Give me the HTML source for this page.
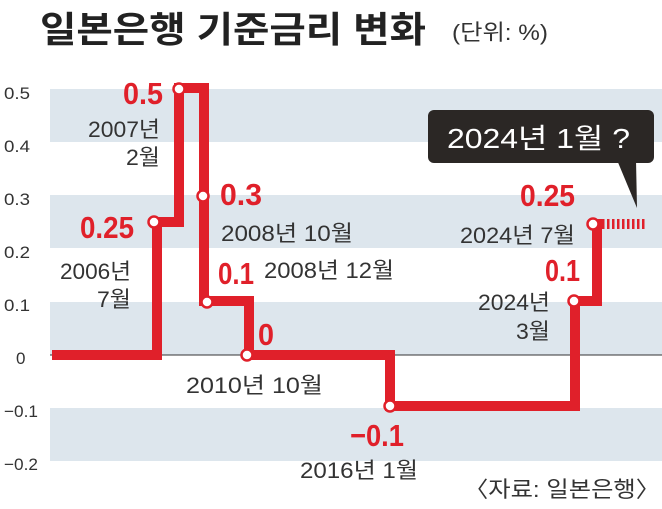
<!DOCTYPE html>
<html><head><meta charset="utf-8"><style>
body{margin:0;background:#fff}
svg{display:block}
text{font-family:"Liberation Sans","Noto Sans CJK KR",sans-serif}
</style></head><body>
<svg width="662" height="509" viewBox="0 0 662 509">
<rect width="662" height="509" fill="#fff"/>
<g fill="#dde6ed">
<rect x="50" y="89" width="612" height="53"/>
<rect x="50" y="195" width="612" height="53"/>
<rect x="50" y="302" width="612" height="53"/>
<rect x="50" y="408" width="612" height="53"/>
</g>
<line x1="50" y1="355" x2="662" y2="355" stroke="#333" stroke-width="1"/>
<text x="40" y="42" font-size="36" font-weight="bold" fill="#222" textLength="386" lengthAdjust="spacingAndGlyphs">일본은행 기준금리 변화</text>
<text x="452" y="40" font-size="22" fill="#333" textLength="96" lengthAdjust="spacingAndGlyphs">(단위: %)</text>
<g font-size="17" fill="#333">
<text x="4" y="99" textLength="26" lengthAdjust="spacingAndGlyphs">0.5</text>
<text x="4" y="152" textLength="26" lengthAdjust="spacingAndGlyphs">0.4</text>
<text x="4" y="205" textLength="26" lengthAdjust="spacingAndGlyphs">0.3</text>
<text x="4" y="258" textLength="26" lengthAdjust="spacingAndGlyphs">0.2</text>
<text x="4" y="311" textLength="26" lengthAdjust="spacingAndGlyphs">0.1</text>
<text x="16" y="364">0</text>
<text x="4" y="417" textLength="34" lengthAdjust="spacingAndGlyphs">−0.1</text>
<text x="4" y="470" textLength="34" lengthAdjust="spacingAndGlyphs">−0.2</text>
</g>
<path d="M52 355 H157 V222 H179 V88 H204 V301 H249 V355 H390 V406 H575 V301 H597 V224 H602" fill="none" stroke="#e0202a" stroke-width="10" stroke-linejoin="miter"/>
<line x1="602" y1="224" x2="646" y2="224" stroke="#e0202a" stroke-width="10" stroke-dasharray="2.5 2.5"/>
<g fill="#fff" stroke="#e0202a" stroke-width="2.5">
<circle cx="154" cy="222" r="5.5"/><circle cx="179" cy="89" r="5.5"/><circle cx="203" cy="196" r="5.5"/>
<circle cx="207" cy="302" r="5.5"/><circle cx="247" cy="355" r="5.5"/><circle cx="390" cy="406" r="5.5"/>
<circle cx="574" cy="301" r="5.5"/><circle cx="593" cy="224" r="5.5"/>
</g>
<g font-size="31" font-weight="bold" fill="#e0202a" lengthAdjust="spacingAndGlyphs">
<text x="123" y="104" textLength="40" lengthAdjust="spacingAndGlyphs">0.5</text>
<text x="80" y="238" textLength="54" lengthAdjust="spacingAndGlyphs">0.25</text>
<text x="220" y="205" textLength="42" lengthAdjust="spacingAndGlyphs">0.3</text>
<text x="218" y="284" textLength="36" lengthAdjust="spacingAndGlyphs">0.1</text>
<text x="258" y="345" textLength="16" lengthAdjust="spacingAndGlyphs">0</text>
<text x="350" y="446" textLength="54" lengthAdjust="spacingAndGlyphs">−0.1</text>
<text x="520" y="206" textLength="55" lengthAdjust="spacingAndGlyphs">0.25</text>
<text x="545" y="281" textLength="35" lengthAdjust="spacingAndGlyphs">0.1</text>
</g>
<g font-size="22" fill="#333">
<text x="88" y="137" textLength="72" lengthAdjust="spacingAndGlyphs">2007년</text>
<text x="126" y="165" textLength="34" lengthAdjust="spacingAndGlyphs">2월</text>
<text x="60" y="279" textLength="71" lengthAdjust="spacingAndGlyphs">2006년</text>
<text x="97" y="307" textLength="34" lengthAdjust="spacingAndGlyphs">7월</text>
<text x="221" y="241" textLength="132" lengthAdjust="spacingAndGlyphs">2008년 10월</text>
<text x="264" y="278" textLength="130" lengthAdjust="spacingAndGlyphs">2008년 12월</text>
<text x="186" y="393" textLength="137" lengthAdjust="spacingAndGlyphs">2010년 10월</text>
<text x="300" y="478" textLength="118" lengthAdjust="spacingAndGlyphs">2016년 1월</text>
<text x="460" y="243" textLength="115" lengthAdjust="spacingAndGlyphs">2024년 7월</text>
<text x="478" y="310" textLength="72" lengthAdjust="spacingAndGlyphs">2024년</text>
<text x="516" y="339" textLength="34" lengthAdjust="spacingAndGlyphs">3월</text>
<text x="464" y="497" textLength="196" lengthAdjust="spacingAndGlyphs">〈자료: 일본은행〉</text>
</g>
<rect x="428" y="110" width="226" height="53" rx="6" fill="#2b2725"/>
<polygon points="617,160 636,160 637,208" fill="#2b2725"/>
<text x="447" y="148" font-size="28" fill="#fff" textLength="183" lengthAdjust="spacingAndGlyphs">2024년 1월  ?</text>
</svg>
</body></html>
